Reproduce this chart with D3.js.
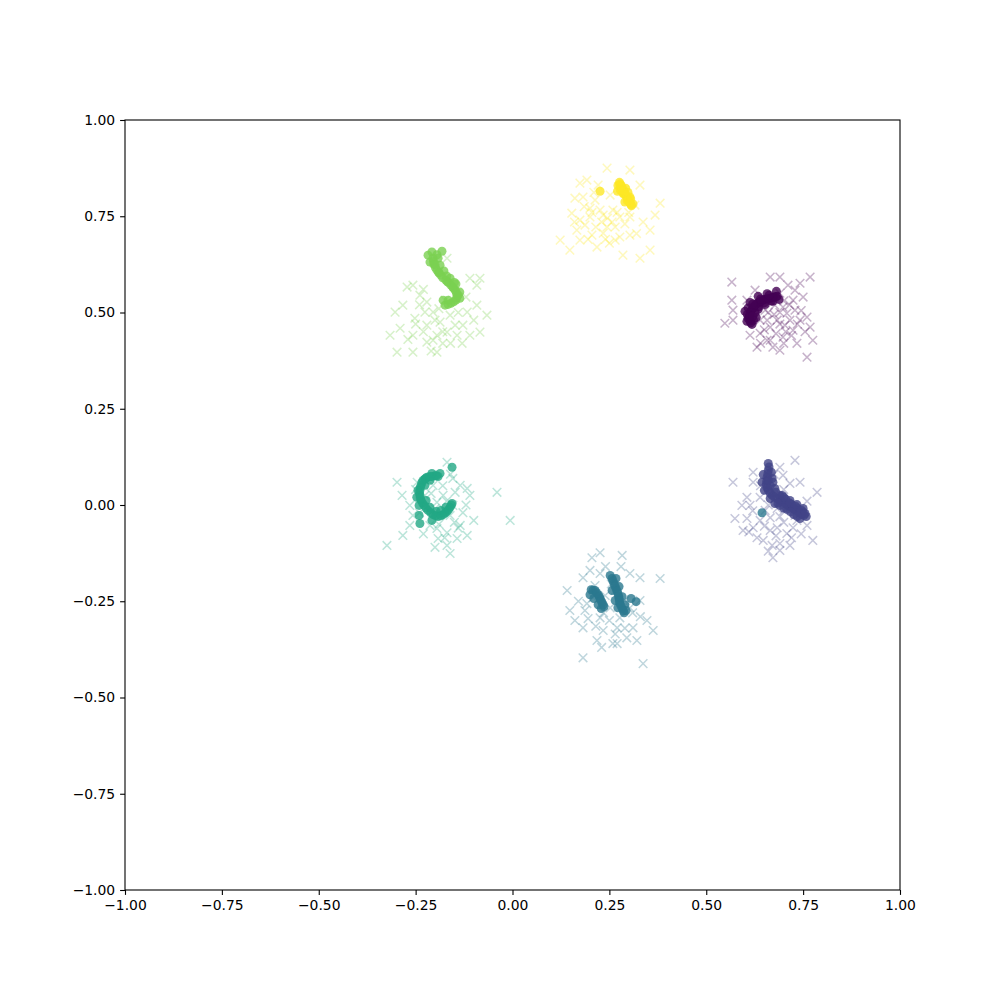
<!DOCTYPE html>
<html><head><meta charset="utf-8">
<script src="https://cdn.jsdelivr.net/npm/d3@7"></script>
<style>body{margin:0;background:#fff}svg{display:block}</style>
</head><body>
<svg id="chart" width="1000" height="1000"></svg>
<script>
// class colours (viridis, 6 classes)
const classColors = ["#440154", "#414487", "#2a788e", "#22a884", "#7ad151", "#fde725"];
const xTicks = [-1, -0.75, -0.5, -0.25, 0, 0.25, 0.5, 0.75, 1];
const yTicks = [-1, -0.75, -0.5, -0.25, 0, 0.25, 0.5, 0.75, 1];

// real samples ("x" markers), one array per class
const real0 = [[0.566,0.579],[0.665,0.592],[0.690,0.592],[0.711,0.571],[0.742,0.576],[0.768,0.592],[0.566,0.532],[0.569,0.506],[0.548,0.472],[0.569,0.480],[0.605,0.532],[0.690,0.550],[0.724,0.532],[0.750,0.540],[0.760,0.488],[0.742,0.480],[0.768,0.462],[0.775,0.428],[0.760,0.384],[0.657,0.428],[0.672,0.410],[0.639,0.446],[0.698,0.436],[0.724,0.454],[0.683,0.480],[0.708,0.498],[0.657,0.480],[0.698,0.514],[0.631,0.410],[0.734,0.420],[0.690,0.402],[0.665,0.462],[0.677,0.519],[0.716,0.480],[0.652,0.506],[0.639,0.480],[0.729,0.506],[0.613,0.441],[0.703,0.467],[0.665,0.428],[0.626,0.558],[0.729,0.558],
  [0.690,0.500],[0.705,0.450],[0.675,0.495],[0.715,0.520],[0.650,0.455],[0.735,0.470],[0.690,0.470],[0.680,0.445],[0.745,0.505],[0.700,0.530],[0.720,0.440],[0.660,0.500],[0.755,0.450],[0.640,0.420],[0.700,0.420]];
const real1 = [[0.729,0.116],[0.690,0.098],[0.621,0.085],[0.569,0.059],[0.698,0.077],[0.742,0.059],[0.716,0.056],[0.786,0.033],[0.621,0.059],[0.605,0.020],[0.639,0.020],[0.592,-0.001],[0.574,-0.035],[0.605,-0.035],[0.621,-0.059],[0.631,-0.085],[0.665,-0.066],[0.683,-0.059],[0.690,-0.100],[0.670,-0.105],[0.690,-0.118],[0.672,-0.137],[0.708,-0.074],[0.724,-0.059],[0.760,-0.053],[0.775,-0.092],[0.734,-0.040],[0.665,-0.033],[0.683,-0.009],[0.708,0.004],[0.595,-0.066],[0.647,-0.092],[0.652,-0.014],[0.613,-0.001],[0.729,-0.027],[0.639,-0.040],[0.716,-0.105],
  [0.660,0.000],[0.700,-0.045],[0.680,-0.080],[0.650,-0.055],[0.720,-0.085],[0.690,-0.030],[0.620,-0.015],[0.640,0.050],[0.700,0.040],[0.745,-0.075],[0.660,-0.120],[0.700,-0.015],[0.610,-0.070],[0.760,0.010],[0.675,0.080]];
const real2 = [[0.226,-0.124],[0.205,-0.137],[0.283,-0.131],[0.381,-0.191],[0.141,-0.222],[0.182,-0.189],[0.226,-0.178],[0.303,-0.178],[0.329,-0.189],[0.148,-0.274],[0.161,-0.300],[0.192,-0.256],[0.182,-0.319],[0.226,-0.293],[0.234,-0.326],[0.218,-0.352],[0.259,-0.360],[0.295,-0.345],[0.311,-0.319],[0.347,-0.300],[0.363,-0.326],[0.321,-0.352],[0.270,-0.319],[0.277,-0.293],[0.208,-0.241],[0.182,-0.397],[0.337,-0.412],[0.303,-0.267],[0.252,-0.267],[0.329,-0.248],[0.265,-0.222],[0.213,-0.209],[0.290,-0.248],[0.239,-0.235],[0.187,-0.274],
  [0.250,-0.300],[0.265,-0.335],[0.235,-0.280],[0.215,-0.315],[0.290,-0.320],[0.255,-0.205],[0.195,-0.295],[0.310,-0.280],[0.240,-0.160],[0.280,-0.160],[0.200,-0.170],[0.330,-0.290],[0.270,-0.360],[0.230,-0.370],[0.170,-0.250]];
const real3 = [[-0.169,0.111],[-0.298,0.059],[-0.285,0.025],[-0.154,0.069],[-0.135,0.051],[-0.117,0.043],[-0.110,0.025],[-0.040,0.033],[-0.006,-0.040],[-0.265,-0.001],[-0.257,-0.027],[-0.265,-0.053],[-0.283,-0.079],[-0.324,-0.105],[-0.195,-0.061],[-0.169,-0.072],[-0.135,-0.053],[-0.117,-0.079],[-0.143,-0.087],[-0.169,-0.105],[-0.161,-0.126],[-0.192,-0.087],[-0.205,0.051],[-0.179,0.025],[-0.195,0.007],[-0.154,-0.001],[-0.128,-0.020],[-0.213,0.069],[-0.246,0.059],[-0.226,0.025],[-0.161,-0.027],[-0.187,-0.027],[-0.213,-0.053],[-0.148,0.033],
  [-0.180,0.050],[-0.200,-0.010],[-0.170,0.010],[-0.150,-0.045],[-0.190,-0.050],[-0.230,-0.075],[-0.120,0.000],[-0.210,0.030],[-0.160,0.080],[-0.250,0.040],[-0.140,-0.060],[-0.175,-0.085],[-0.100,-0.040],[-0.200,-0.110],[-0.240,-0.020]];
const real4 = [[-0.169,0.641],[-0.110,0.589],[-0.084,0.589],[-0.092,0.571],[-0.272,0.566],[-0.257,0.571],[-0.283,0.519],[-0.239,0.545],[-0.221,0.527],[-0.205,0.501],[-0.303,0.501],[-0.316,0.441],[-0.290,0.459],[-0.257,0.441],[-0.298,0.397],[-0.257,0.397],[-0.221,0.423],[-0.195,0.441],[-0.169,0.449],[-0.143,0.441],[-0.110,0.441],[-0.084,0.449],[-0.128,0.467],[-0.187,0.475],[-0.161,0.493],[-0.117,0.501],[-0.092,0.519],[-0.066,0.493],[-0.195,0.397],[-0.221,0.467],[-0.252,0.485],[-0.174,0.532],[-0.148,0.467],[-0.226,0.501],[-0.205,0.428],
  [-0.200,0.480],[-0.180,0.450],[-0.230,0.450],[-0.160,0.420],[-0.210,0.400],[-0.240,0.520],[-0.140,0.500],[-0.190,0.510],[-0.270,0.430],[-0.130,0.420],[-0.100,0.480],[-0.180,0.420],[-0.230,0.560],[-0.120,0.540],[-0.250,0.470]];
const real5 = [[0.244,0.875],[0.303,0.870],[0.174,0.836],[0.192,0.844],[0.381,0.784],[0.182,0.800],[0.200,0.771],[0.303,0.748],[0.337,0.735],[0.355,0.714],[0.166,0.714],[0.123,0.688],[0.148,0.662],[0.174,0.688],[0.244,0.722],[0.234,0.706],[0.277,0.696],[0.218,0.670],[0.285,0.649],[0.329,0.641],[0.355,0.662],[0.200,0.748],[0.226,0.766],[0.259,0.766],[0.277,0.748],[0.174,0.740],[0.161,0.797],[0.213,0.792],[0.252,0.805],[0.290,0.818],[0.265,0.688],[0.187,0.727],[0.303,0.701],[0.221,0.831],[0.329,0.831],[0.257,0.735],[0.205,0.701],[0.234,0.753],[0.153,0.758],[0.316,0.779],[0.368,0.753],
  [0.205,0.760],[0.245,0.745],[0.265,0.722],[0.215,0.722],[0.195,0.690],[0.250,0.680],[0.230,0.735],[0.270,0.760],[0.185,0.775],[0.290,0.730],[0.240,0.690],[0.210,0.812],[0.160,0.735],[0.300,0.760],[0.320,0.705]];

// generated samples (circles), one array per class
const gen0 = [[0.618,0.469],[0.613,0.478],[0.611,0.487],[0.613,0.497],[0.618,0.508],[0.624,0.516],[0.631,0.523],[0.639,0.528],[0.646,0.532],[0.655,0.535],[0.665,0.537],[0.674,0.540],[0.683,0.542],[0.622,0.480],[0.626,0.500],[0.636,0.515],[0.650,0.525],[0.668,0.530],
  [0.605,0.477],[0.600,0.503],[0.613,0.526],[0.634,0.542],[0.657,0.549],[0.681,0.555],[0.629,0.487],[0.634,0.508],[0.652,0.521],[0.672,0.529],[0.688,0.534],
  [0.615,0.473],[0.612,0.492],[0.615,0.503],[0.621,0.512],[0.627,0.520],[0.635,0.526],[0.642,0.530],[0.650,0.534],[0.660,0.536],[0.670,0.539],[0.679,0.541],[0.608,0.485],[0.606,0.495],[0.608,0.512],[0.620,0.522],[0.640,0.535],[0.662,0.545],[0.620,0.490]];
const gen1 = [[0.660,0.108],[0.660,0.090],[0.657,0.072],[0.655,0.053],[0.660,0.038],[0.670,0.025],[0.683,0.017],[0.690,0.012],[0.698,0.007],[0.707,0.001],[0.716,-0.004],[0.724,-0.009],[0.732,-0.014],[0.740,-0.020],[0.747,-0.025],[0.758,-0.030],[0.677,0.043],[0.672,0.059],[0.650,0.038],[0.665,0.050],[0.690,0.025],[0.705,0.015],[0.720,0.002],[0.735,-0.008],[0.750,-0.018],
  [0.670,0.069],[0.644,0.059],[0.647,0.079],[0.680,0.033],[0.696,0.025],[0.716,0.012],[0.734,0.001],[0.750,-0.009],[0.708,-0.011],[0.726,-0.025],[0.742,-0.035],[0.677,0.004],[0.690,-0.001],[0.665,0.017],
  [0.662,0.099],[0.659,0.081],[0.656,0.062],[0.657,0.045],[0.665,0.031],[0.676,0.021],[0.694,0.010],[0.711,-0.002],[0.728,-0.012],[0.744,-0.022],[0.752,-0.027],[0.700,0.020],[0.715,0.005],[0.730,-0.003],[0.745,-0.013],[0.755,-0.022],[0.685,0.005],[0.700,-0.008],[0.718,-0.018],[0.735,-0.030],[0.668,0.085],[0.660,0.065]];
const gen2 = [[0.203,-0.220],[0.213,-0.222],[0.221,-0.233],[0.226,-0.243],[0.231,-0.254],[0.236,-0.264],[0.257,-0.191],[0.262,-0.204],[0.267,-0.217],[0.272,-0.230],[0.275,-0.243],[0.277,-0.256],[0.283,-0.269],[0.288,-0.280],[0.306,-0.243],[0.319,-0.251],[0.644,-0.020],
  [0.252,-0.183],[0.267,-0.191],[0.275,-0.212],[0.283,-0.238],[0.290,-0.259],[0.293,-0.274],[0.257,-0.222],[0.265,-0.248],[0.272,-0.267],[0.200,-0.233],[0.210,-0.243],[0.221,-0.259],[0.229,-0.269],
  [0.259,-0.197],[0.264,-0.210],[0.270,-0.224],[0.274,-0.237],[0.276,-0.250],[0.280,-0.262],[0.286,-0.275],[0.208,-0.221],[0.217,-0.228],[0.224,-0.238],[0.229,-0.249],[0.234,-0.259]];
const gen3 = [[-0.192,0.074],[-0.200,0.076],[-0.208,0.074],[-0.221,0.072],[-0.231,0.064],[-0.236,0.051],[-0.239,0.038],[-0.239,0.025],[-0.236,0.012],[-0.228,-0.001],[-0.218,-0.014],[-0.205,-0.025],[-0.192,-0.030],[-0.179,-0.025],[-0.169,-0.017],[-0.161,-0.006],[-0.156,0.098],[-0.241,-0.027],[-0.239,-0.048],[-0.208,-0.040],[-0.225,0.068],
  [-0.244,0.038],[-0.247,0.020],[-0.226,0.051],[-0.213,0.064],[-0.223,0.012],[-0.213,-0.006],[-0.197,-0.017],[-0.185,-0.014],[-0.172,-0.006],[-0.156,0.004],[-0.208,0.082],[-0.187,0.082],[-0.241,-0.001],
  [-0.196,0.076],[-0.214,0.074],[-0.226,0.068],[-0.234,0.058],[-0.238,0.045],[-0.240,0.031],[-0.238,0.018],[-0.232,0.005],[-0.223,-0.008],[-0.211,-0.020],[-0.198,-0.028],[-0.185,-0.028],[-0.174,-0.021],[-0.165,-0.012],[-0.158,0.000]];
const gen4 = [[-0.208,0.657],[-0.182,0.659],[-0.205,0.641],[-0.203,0.625],[-0.195,0.610],[-0.185,0.597],[-0.172,0.584],[-0.159,0.571],[-0.148,0.558],[-0.143,0.545],[-0.146,0.532],[-0.159,0.524],[-0.174,0.519],[-0.179,0.532],[-0.204,0.633],[-0.199,0.617],[-0.190,0.603],[-0.165,0.578],[-0.153,0.564],
  [-0.192,0.641],[-0.187,0.623],[-0.177,0.608],[-0.161,0.589],[-0.146,0.574],[-0.136,0.553],[-0.136,0.537],[-0.166,0.532],[-0.218,0.649],[-0.213,0.631],
  [-0.190,0.604],[-0.180,0.590],[-0.168,0.580],[-0.154,0.566],[-0.145,0.552],[-0.144,0.538],[-0.152,0.528],[-0.166,0.521],[-0.200,0.625],[-0.195,0.650],[-0.140,0.545],[-0.150,0.578],[-0.170,0.595]];
const gen5 = [[0.276,0.838],[0.280,0.830],[0.284,0.822],[0.288,0.814],[0.292,0.806],[0.296,0.798],[0.300,0.790],[0.304,0.783],[0.307,0.777],[0.272,0.830],[0.278,0.818],[0.286,0.808],[0.226,0.815],
  [0.277,0.831],[0.292,0.823],[0.303,0.800],[0.290,0.787],[0.311,0.782],[0.287,0.810],[0.271,0.815],
  [0.278,0.834],[0.282,0.826],[0.286,0.818],[0.290,0.810],[0.294,0.802],[0.298,0.794],[0.302,0.787],[0.306,0.780],[0.296,0.790],[0.283,0.815],[0.298,0.812],[0.305,0.795]];

const realSets = [real0, real1, real2, real3, real4, real5];
const genSets = [gen0, gen1, gen2, gen3, gen4, gen5];

const svg = d3.select("#chart");
const L = 125, R = 900, T = 120, B = 890;
const x = d3.scaleLinear().domain([-1, 1]).range([L, R]);
const y = d3.scaleLinear().domain([-1, 1]).range([B, T]);
const fmt = v => d3.format(".2f")(v).replace("-", "\u2212");

const r = 4.3;
const xPath = `M${-r},${-r}L${r},${r}M${-r},${r}L${r},${-r}`;

const plot = svg.append("g");
realSets.forEach((pts, i) => {
  plot.append("g").selectAll("path").data(pts).join("path")
    .attr("d", xPath)
    .attr("transform", d => `translate(${x(d[0])},${y(d[1])})`)
    .attr("stroke", classColors[i]).attr("stroke-opacity", 0.3)
    .attr("stroke-width", 1.5).attr("fill", "none");
});
genSets.forEach((pts, i) => {
  plot.append("g").selectAll("circle").data(pts).join("circle")
    .attr("cx", d => x(d[0])).attr("cy", d => y(d[1])).attr("r", 4.5)
    .attr("fill", classColors[i]).attr("fill-opacity", 0.8);
});

// axes
const font = "DejaVu Sans, sans-serif";
const xa = svg.append("g").attr("transform", `translate(0,${B})`)
  .call(d3.axisBottom(x).tickValues(xTicks).tickFormat(fmt).tickSize(4.9).tickPadding(4.9).tickSizeOuter(0));
const ya = svg.append("g").attr("transform", `translate(${L},0)`)
  .call(d3.axisLeft(y).tickValues(yTicks).tickFormat(fmt).tickSize(4.9).tickPadding(4.9).tickSizeOuter(0));
[xa, ya].forEach(a => {
  a.select(".domain").remove();
  a.selectAll("line").attr("stroke", "#000").attr("stroke-width", 1.1);
  a.selectAll("text").attr("font-family", font).attr("font-size", "13.9px").attr("fill", "#000");
});
svg.append("rect").attr("x", L).attr("y", T).attr("width", R - L).attr("height", B - T)
  .attr("fill", "none").attr("stroke", "#000").attr("stroke-width", 1.1);
</script>
</body></html>
